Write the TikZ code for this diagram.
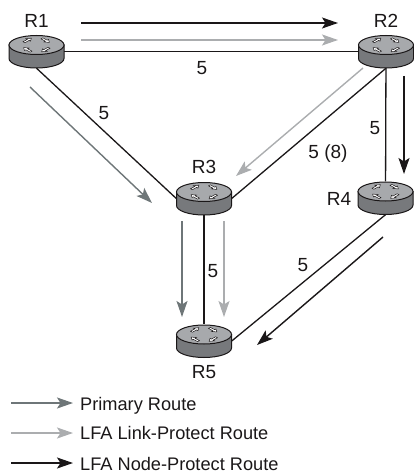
\documentclass[tikz,border=0pt]{standalone}
\usepackage{xcolor}
\usepackage{fontspec}
\setmainfont{Liberation Sans}
\usetikzlibrary{arrows.meta,positioning}
\definecolor{primarygray}{HTML}{6E7678}
\definecolor{linkgray}{HTML}{ABADAF}
\definecolor{nodeblack}{HTML}{1A1718}
\definecolor{bodygray}{HTML}{77797C}
\definecolor{topgray}{HTML}{A7A9AC}
\tikzstyle{routerbox} = [inner sep=0pt, minimum width=55pt, minimum height=33pt]
\tikzstyle{link} = [draw=nodeblack, line width=1.3pt]
\tikzstyle{route} = [-{Stealth[length=16pt,width=11pt,inset=3.5pt]}, line width=1.4pt]
\tikzstyle{primary} = [route, draw=primarygray]
\tikzstyle{linkprotect} = [route, draw=linkgray]
\tikzstyle{nodeprotect} = [route, draw=nodeblack]
\tikzstyle{lbl} = [font=\fontsize{19}{20}\selectfont, text=nodeblack, inner sep=0pt, text height=13pt, text depth=0pt]
\tikzstyle{legend} = [font=\fontsize{18.2}{20}\selectfont, text=nodeblack, inner sep=0pt, anchor=west, text height=12.5pt, text depth=0pt]
\tikzset{routericon/.pic={
    \draw [nodeblack, line width=1pt, fill=bodygray] (-27.5,-6.5) -- (-27.5,7) arc [start angle=180, end angle=0, x radius=27.5, y radius=9.5] -- (27.5,-6.5) -- cycle;
    \draw [nodeblack, line width=1pt, fill=topgray] (0,-6.5) ellipse [x radius=27.5, y radius=9.5];
    \foreach \sx/\sy/\ang in {-1/-1/45, 1/-1/-45, -1/1/135, 1/1/225}
        \filldraw [fill=white, draw=nodeblack, line width=0.5pt, shift={(\sx*9,-6.5+\sy*4.7)}, yscale=0.55, rotate=\ang]
            (-5,-1.3) -- (1,-1.3) -- (1,-3.2) -- (5.5,0) -- (1,3.2) -- (1,1.3) -- (-5,1.3) -- cycle;
}}
\begin{document}
\begin{tikzpicture}[x=1pt, y=-1pt]
    \useasboundingbox (0,0) rectangle (413,473);
    % Routers
    \node [routerbox] (r1) at (36.5,51.5) {};
    \node [routerbox] (r2) at (386,51.5) {};
    \node [routerbox] (r3) at (204,198.5) {};
    \node [routerbox] (r4) at (385.5,198) {};
    \node [routerbox] (r5) at (204,341) {};

    % Links
    \path [link] (r1) -- (r2);
    \path [link] (r1.south) -- (r3.west);
    \path [link] (r2.south) -- (r3.east);
    \path [link] (r2) -- (r4);
    \path [link] (r3) -- (r5);
    \path [link] (r4.south) -- (r5.east);
    \foreach \n in {r1,r2,r3,r4,r5}
        \pic at (\n) {routericon};

    % Route arrows
    \coordinate (a1) at (81,23);   \coordinate (a2) at (338,23);
    \coordinate (b1) at (81,40);   \coordinate (b2) at (338,40);
    \coordinate (c1) at (30,87);   \coordinate (c2) at (152,203);
    \coordinate (d1) at (363,68);  \coordinate (d2) at (236,176);
    \coordinate (e1) at (404,76);  \coordinate (e2) at (404,174);
    \coordinate (f1) at (182,221); \coordinate (f2) at (182,317);
    \coordinate (g1) at (224,221); \coordinate (g2) at (224,317);
    \coordinate (h1) at (383,237); \coordinate (h2) at (257,345);
    \draw [nodeprotect] (a1) -- (a2);
    \draw [linkprotect] (b1) -- (b2);
    \draw [primary] (c1) -- (c2);
    \draw [linkprotect] (d1) -- (d2);
    \draw [nodeprotect] (e1) -- (e2);
    \draw [primary] (f1) -- (f2);
    \draw [linkprotect] (g1) -- (g2);
    \draw [nodeprotect] (h1) -- (h2);

    % Labels
    \node [lbl, above=7pt of r1] (r1lbl) {R1};
    \node [lbl, above=7pt of r2] (r2lbl) {R2};
    \node [lbl, above=8pt of r3] (r3lbl) {R3};
    \node [lbl] (r4lbl) at (339,198.5) {R4};
    \node [lbl, below=8pt of r5] (r5lbl) {R5};
    \node [lbl] (c12) at (202,68) {5};
    \node [lbl] (c13) at (104,113) {5};
    \node [lbl] (c23) at (328,152) {5 (8)};
    \node [lbl] (c24) at (375,128) {5};
    \node [lbl] (c35) at (213,271) {5};
    \node [lbl] (c45) at (303,265) {5};

    % Legend
    \coordinate (k1) at (11,403); \node [legend] (k1lbl) at (80,404) {Primary Route};
    \coordinate (k2) at (11,433); \node [legend] (k2lbl) at (80,433.5) {LFA Link-Protect Route};
    \coordinate (k3) at (11,463); \node [legend] (k3lbl) at (80,464) {LFA Node-Protect Route};
    \draw [primary, shorten >=7pt] (k1) -- (k1 -| k1lbl.west);
    \draw [linkprotect, shorten >=7pt] (k2) -- (k2 -| k2lbl.west);
    \draw [nodeprotect, shorten >=7pt] (k3) -- (k3 -| k3lbl.west);
\end{tikzpicture}
\end{document}
